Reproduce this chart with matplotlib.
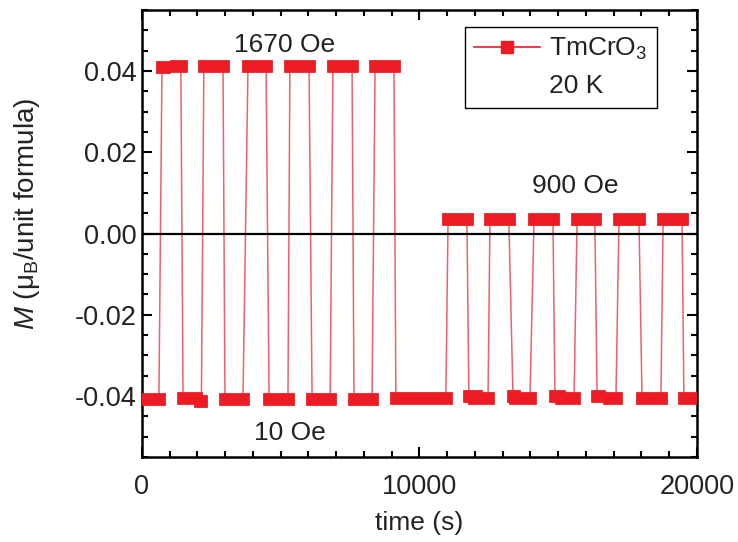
import numpy as np
import matplotlib.pyplot as plt
from matplotlib.lines import Line2D

plt.rcParams['font.family'] = ['Liberation Sans', 'DejaVu Sans']
plt.rcParams['mathtext.fontset'] = 'custom'
plt.rcParams['mathtext.rm'] = 'Liberation Sans'
plt.rcParams['mathtext.it'] = 'Liberation Sans:italic'
plt.rcParams['axes.unicode_minus'] = False
plt.rcParams['path.simplify'] = False

# plateau segments: start time, end time (s), magnetization
seg_t0 = [0, 720, 1225, 1480, 2090, 2230, 2990, 3820, 4580, 5330, 6130, 6880, 7640, 8400,
          9150, 11030, 11780, 11960, 12540, 13370, 13440, 14130, 14880, 15100, 15680,
          16400, 16830, 17190, 18020, 18780, 19530]
seg_t1 = [610, 790, 1400, 1950, 2140, 2920, 3640, 4470, 5260, 6020, 6780, 7570, 8290, 9080,
          10950, 11710, 12030, 12470, 13220, 13400, 13980, 14810, 15030, 15570, 16320,
          16470, 17080, 17910, 18700, 19460, 20000]
seg_m = [-0.0407, 0.0409, 0.0413, -0.0406, -0.0412, 0.0412, -0.0407, 0.0412, -0.0407, 0.0412,
         -0.0407, 0.0412, -0.0407, 0.0412, -0.0406, 0.0035, -0.0400, -0.0406, 0.0035,
         -0.0400, -0.0406, 0.0035, -0.0400, -0.0406, 0.0035, -0.0400, -0.0406, 0.0035,
         -0.0406, 0.0035, -0.0406]

red = '#ED1C24'
txt = '#222222'

fig = plt.figure(figsize=(7.38, 5.42), dpi=100)
ax = fig.add_axes([0.1924, 0.1568, 0.752, 0.8247])

# thin line through all the measured points
t = []
m = []
for a, b, v in zip(seg_t0, seg_t1, seg_m):
    t += [a, b]
    m += [v, v]
ax.plot(t, m, color='#F0606A', lw=1.1, zorder=2)

# the dense square markers form thick bars on each plateau
for a, b, v in zip(seg_t0, seg_t1, seg_m):
    ax.plot([a, b], [v, v], color=red, lw=9.2, solid_capstyle='projecting', zorder=3)

ax.axhline(0, color='black', lw=1.6, zorder=4)

ax.text(5150, 0.0463, '1670 Oe', ha='center', va='center', fontsize=19, color=txt)
ax.text(15600, 0.0118, '900 Oe', ha='center', va='center', fontsize=19, color=txt)
ax.text(5330, -0.049, '10 Oe', ha='center', va='center', fontsize=19, color=txt)

ax.set_xlim(0, 20000)
ax.set_ylim(-0.055, 0.055)
ax.set_xticks([0, 10000, 20000])
ax.set_xticks(np.arange(0, 20001, 1000), minor=True)
ax.set_yticks([-0.04, -0.02, 0.0, 0.02, 0.04])
ax.set_yticks(np.arange(-0.055, 0.0551, 0.005), minor=True)
ax.set_yticklabels(['-0.04', '-0.02', '0.00', '0.02', '0.04'])
ax.tick_params(which='both', direction='in', top=True, right=True, labelsize=19.5,
               width=1.5, labelcolor=txt)
ax.tick_params(which='major', length=7)
ax.tick_params(axis='x', which='major', pad=12)
ax.tick_params(axis='y', which='major', pad=4)
ax.tick_params(which='minor', length=4)
for s in ax.spines.values():
    s.set_linewidth(1.8)

ax.set_xlabel('time (s)', fontsize=19, labelpad=8, color=txt)
ax.set_ylabel('$M$ (μ$_\\mathrm{B}$/unit formula)', fontsize=20, color=txt)
ax.yaxis.set_label_coords(-0.18, 0.545)

h1 = Line2D([], [], color=red, lw=1.2, marker='s', markersize=9)
h2 = Line2D([], [], color='none')
leg = ax.legend([h1, h2], ['TmCrO$_3$', '20 K'], loc='upper left',
                bbox_to_anchor=(0.582, 0.962), fontsize=19, fancybox=False,
                edgecolor='black', framealpha=1, handlelength=2.5, handletextpad=0.35,
                borderaxespad=0, labelspacing=0.45, borderpad=0.35)
leg.get_frame().set_linewidth(1.0)
for tx in leg.get_texts():
    tx.set_color(txt)

fig.savefig('out.png', dpi=100)
